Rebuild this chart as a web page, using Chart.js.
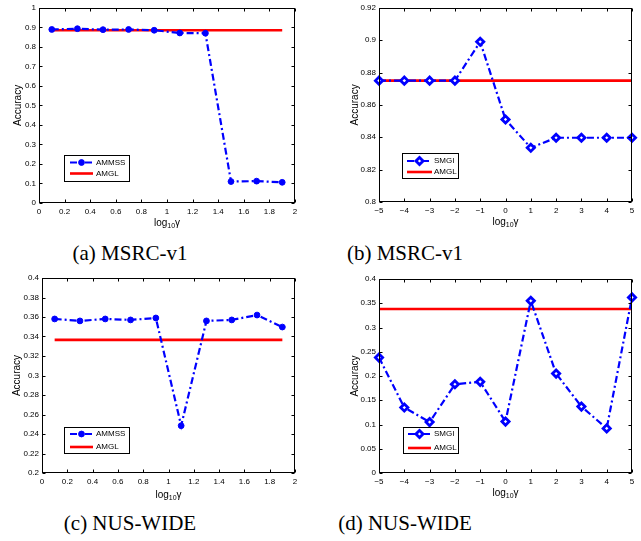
<!DOCTYPE html>
<html><head><meta charset="utf-8">
<script src="https://cdn.jsdelivr.net/npm/chart.js@4/dist/chart.umd.min.js"></script>
<style>
html,body{margin:0;padding:0;background:#fff;}
body{width:641px;height:541px;position:relative;overflow:hidden;}
canvas{position:absolute;}
.cap{position:absolute;font-family:"Liberation Serif","Times New Roman",serif;font-size:21px;color:#000;text-align:center;width:200px;line-height:24px;white-space:nowrap;}
</style></head><body>
<canvas id="ca" width="320" height="240" style="left:0;top:0"></canvas>
<canvas id="cb" width="321" height="240" style="left:320px;top:0"></canvas>
<canvas id="cc" width="320" height="240" style="left:0;top:270px"></canvas>
<canvas id="cd" width="321" height="240" style="left:320px;top:270px"></canvas>
<div class="cap" style="left:30px;top:241px">(a) MSRC-v1</div>
<div class="cap" style="left:305px;top:241px">(b) MSRC-v1</div>
<div class="cap" style="left:30px;top:511px">(c) NUS-WIDE</div>
<div class="cap" style="left:305px;top:511px">(d) NUS-WIDE</div>
<script>
// ---- data ----
const gammaSmall = [0.1,0.3,0.5,0.7,0.9,1.1,1.3,1.5,1.7,1.9];
const gammaLog = [-5,-4,-3,-2,-1,0,1,2,3,4,5];

const ammssMSRC = [0.889,0.893,0.888,0.889,0.885,0.871,0.870,0.110,0.112,0.106];
const amglMSRC_a = [0.885,0.885,0.885,0.885,0.885,0.885,0.885,0.885,0.885,0.885];
const smgiMSRC = [0.875,0.875,0.875,0.875,0.899,0.851,0.8335,0.8397,0.8397,0.8397,0.8397];
const amglMSRC_b = [0.875,0.875,0.875,0.875,0.875,0.875,0.875,0.875,0.875,0.875,0.875];
const ammssNUS = [0.358,0.356,0.358,0.357,0.359,0.2485,0.356,0.357,0.362,0.3497];
const amglNUS_c = [0.3365,0.3365,0.3365,0.3365,0.3365,0.3365,0.3365,0.3365,0.3365,0.3365];
const smgiNUS = [0.238,0.135,0.105,0.183,0.188,0.106,0.355,0.205,0.137,0.092,0.362];
const amglNUS_d = [0.338,0.338,0.338,0.338,0.338,0.338,0.338,0.338,0.338,0.338,0.338];

const xTicksSmall = [0,0.2,0.4,0.6,0.8,1,1.2,1.4,1.6,1.8,2];
const xTicksLog = [-5,-4,-3,-2,-1,0,1,2,3,4,5];
const yTicksA = [0,0.1,0.2,0.3,0.4,0.5,0.6,0.7,0.8,0.9,1];
const yTicksB = [0.8,0.82,0.84,0.86,0.88,0.9,0.92];
const yTicksC = [0.2,0.22,0.24,0.26,0.28,0.3,0.32,0.34,0.36,0.38,0.4];
const yTicksD = [0,0.05,0.1,0.15,0.2,0.25,0.3,0.35,0.4];

const yTitle = 'Accuracy';
const xTitleParts = ['log','10','γ'];

// ---- rendering ----
const FONT = '"Liberation Sans", Arial, sans-serif';
function fmt(v){ const s = (Math.round(v*1000)/1000).toString(); return s.replace('-', '\u2212'); }

const framePlugin = {
  id:'frame',
  afterDraw(chart, args, o){
    const {ctx, chartArea:a, scales:{x,y}} = chart;
    ctx.save();
    ctx.strokeStyle='#000'; ctx.lineWidth=1; ctx.setLineDash([]);
    const L=Math.round(a.left)+0.5, R=Math.round(a.right)-0.5, T=Math.round(a.top)+0.5, B=Math.round(a.bottom)-0.5;
    ctx.strokeRect(L, T, R-L, B-T);
    const tl=3;
    ctx.beginPath();
    x.ticks.forEach(t=>{const px=Math.round(x.getPixelForValue(t.value))+0.5; ctx.moveTo(px,B); ctx.lineTo(px,B-tl); ctx.moveTo(px,T); ctx.lineTo(px,T+tl);});
    y.ticks.forEach(t=>{const py=Math.round(y.getPixelForValue(t.value))+0.5; ctx.moveTo(L,py); ctx.lineTo(L+tl,py); ctx.moveTo(R,py); ctx.lineTo(R-tl,py);});
    ctx.stroke();
    // x title with subscript
    const cx=(a.left+a.right)/2, ty=o.xTitleY;
    ctx.fillStyle='#000'; ctx.textBaseline='middle'; ctx.textAlign='left';
    const f1='10px '+FONT, f2='7px '+FONT;
    ctx.font=f1; const w1=ctx.measureText(xTitleParts[0]).width, w3=ctx.measureText(xTitleParts[2]).width;
    ctx.font=f2; const w2=ctx.measureText(xTitleParts[1]).width;
    let sx=cx-(w1+w2+w3)/2;
    ctx.font=f1; ctx.fillText(xTitleParts[0],sx,ty); sx+=w1;
    ctx.font=f2; ctx.fillText(xTitleParts[1],sx,ty+3); sx+=w2;
    ctx.font=f1; ctx.fillText(xTitleParts[2],sx,ty);
    // legend
    const lg=o.legend;
    ctx.fillStyle='#fff'; ctx.fillRect(lg.x,lg.y,lg.w,lg.h);
    ctx.strokeStyle='#000'; ctx.lineWidth=1;
    ctx.strokeRect(lg.x+0.5,lg.y+0.5,lg.w,lg.h);
    chart.data.datasets.forEach((ds,i)=>{
      const yy=lg.rows[i];
      ctx.save();
      ctx.strokeStyle=ds.borderColor; ctx.lineWidth=ds.borderWidth;
      ctx.setLineDash(ds.borderDash||[]);
      ctx.beginPath(); ctx.moveTo(lg.l1,yy); ctx.lineTo(lg.l2,yy); ctx.stroke();
      if(ds.pointRadius>0){
        ctx.setLineDash([]);
        ctx.fillStyle=ds.pointBackgroundColor; ctx.strokeStyle=ds.pointBorderColor; ctx.lineWidth=ds.pointBorderWidth;
        Chart.helpers.drawPoint(ctx,{pointStyle:ds.pointStyle,radius:ds.pointRadius,borderWidth:ds.pointBorderWidth,rotation:0},(lg.l1+lg.l2)/2,yy);
      }
      ctx.restore();
      ctx.fillStyle='#000'; ctx.font='8px '+FONT; ctx.textBaseline='middle'; ctx.textAlign='left';
      ctx.fillText(ds.label,lg.tx,yy);
    });
    ctx.restore();
  }
};

function makeChart(id, c){
  return new Chart(document.getElementById(id), {
    type:'line',
    data:{datasets:[
      {label:c.name, data:c.xs.map((x,i)=>({x:x,y:c.ys[i]})), borderColor:'#0000ff', borderWidth:2.2, borderDash:[7,3,2,3],
       pointStyle:c.marker, pointRadius:c.r, pointBackgroundColor:c.pbg, pointBorderColor:'#0000ff', pointBorderWidth:c.pbw,
       fill:false, tension:0, clip:false},
      {label:'AMGL', data:c.xs.map((x,i)=>({x:x,y:c.ref[i]})), borderColor:'#ff0000', borderWidth:2.6, pointRadius:0, fill:false, tension:0, clip:false}
    ]},
    options:{
      responsive:false, animation:false, devicePixelRatio:1,
      layout:{padding:{left:0,top:c.top,right:c.right,bottom:0}},
      plugins:{legend:{display:false}, tooltip:{enabled:false}, frame:{legend:c.legend, xTitleY:c.xTitleY}},
      scales:{
        x:{type:'linear', min:c.xmin, max:c.xmax,
           afterBuildTicks:s=>{s.ticks=c.xt.map(v=>({value:v}));},
           afterFit:s=>{s.height=c.xh;},
           grid:{display:false, drawTicks:false}, border:{display:false},
           ticks:{font:{family:FONT,size:8}, color:'#000', padding:4, maxRotation:0, autoSkip:false, callback:v=>fmt(v)}},
        y:{type:'linear', min:c.ymin, max:c.ymax,
           afterBuildTicks:s=>{s.ticks=c.yt.map(v=>({value:v}));},
           afterFit:s=>{s.width=c.yw;},
           grid:{display:false, drawTicks:false}, border:{display:false},
           ticks:{font:{family:FONT,size:8}, color:'#000', padding:3, autoSkip:false, callback:v=>fmt(v)},
           title:{display:true, text:yTitle, color:'#000', font:{family:FONT,size:10}, padding:{top:c.ytp,bottom:0}}}
      }
    },
    plugins:[framePlugin]
  });
}

makeChart('ca',{name:'AMMSS', xs:gammaSmall, ys:ammssMSRC, ref:amglMSRC_a, marker:'circle', r:2.9, pbg:'#0000ff', pbw:1,
  xmin:0,xmax:2,ymin:0,ymax:1,xt:xTicksSmall,yt:yTicksA, top:6,right:25,yw:39,xh:37,ytp:12,xTitleY:223,
  legend:{x:64,y:155,w:65,h:26,rows:[162.5,173.5],l1:70,l2:93,tx:96}});
makeChart('cb',{name:'SMGI', xs:gammaLog, ys:smgiMSRC, ref:amglMSRC_b, marker:'rectRot', r:3.6, pbg:'#ffffff', pbw:2.8,
  xmin:-5,xmax:5,ymin:0.8,ymax:0.92,xt:xTicksLog,yt:yTicksB, top:7,right:9,yw:59,xh:38,ytp:29,xTitleY:222,
  legend:{x:82,y:153,w:56,h:25,rows:[161,172],l1:87,l2:112,tx:114}});
makeChart('cc',{name:'AMMSS', xs:gammaSmall, ys:ammssNUS, ref:amglNUS_c, marker:'circle', r:2.9, pbg:'#0000ff', pbw:1,
  xmin:0,xmax:2,ymin:0.2,ymax:0.4,xt:xTicksSmall,yt:yTicksC, top:8,right:25,yw:42,xh:37,ytp:11,xTitleY:225,
  legend:{x:64,y:157,w:65,h:26,rows:[164,177],l1:70,l2:93,tx:96}});
makeChart('cd',{name:'SMGI', xs:gammaLog, ys:smgiNUS, ref:amglNUS_d, marker:'rectRot', r:3.6, pbg:'#ffffff', pbw:2.8,
  xmin:-5,xmax:5,ymin:0,ymax:0.4,xt:xTicksLog,yt:yTicksD, top:9,right:9,yw:59,xh:37,ytp:29,xTitleY:223,
  legend:{x:83,y:157,w:55,h:26,rows:[164,178],l1:88,l2:111,tx:114}});
</script>
</body></html>
